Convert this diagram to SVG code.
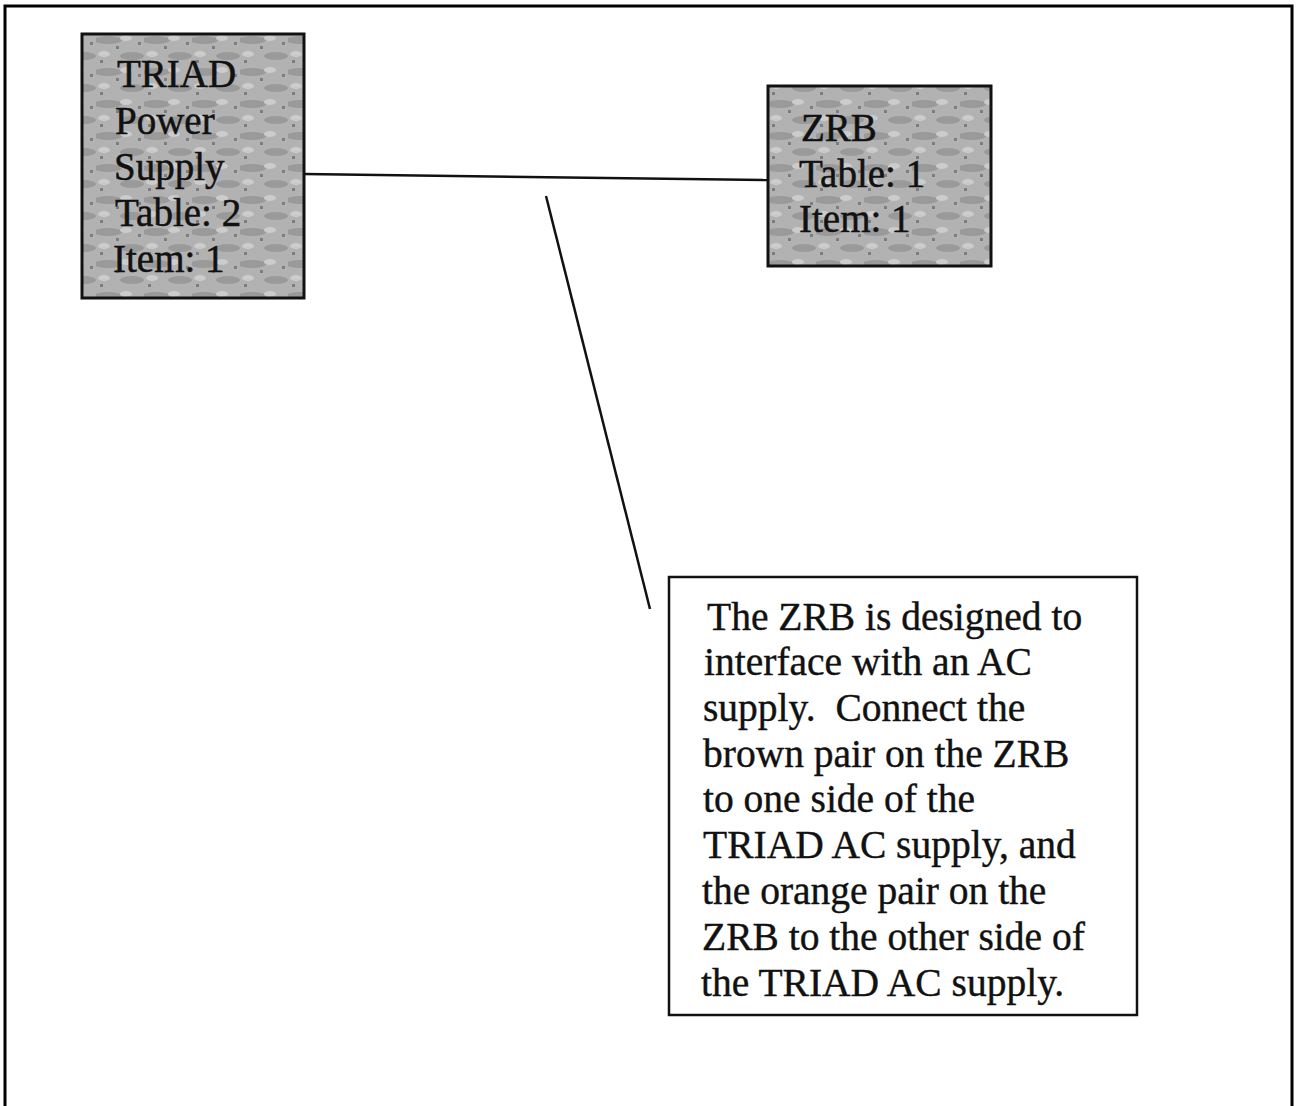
<svg xmlns="http://www.w3.org/2000/svg" width="1297" height="1106" viewBox="0 0 1297 1106">
<defs>
<pattern id="mottle" width="48" height="32" patternUnits="userSpaceOnUse">
<rect width="48" height="32" fill="#b2b2b2"/>
<ellipse cx="12" cy="8" rx="14" ry="4" fill="#9a9a9a"/>
<ellipse cx="36" cy="24" rx="12" ry="4" fill="#9a9a9a"/>
<ellipse cx="30" cy="6" rx="6" ry="3" fill="#cccccc"/>
<ellipse cx="8" cy="22" rx="6" ry="3" fill="#cccccc"/>
<rect x="20" y="14" width="3" height="3" fill="#7e7e7e"/>
<rect x="42" y="10" width="3" height="3" fill="#7e7e7e"/>
<rect x="4" y="28" width="3" height="3" fill="#7e7e7e"/>
</pattern>
<style>
.node{fill:url(#mottle);stroke:#111;stroke-width:3}
.note{fill:#fff;stroke:#111;stroke-width:2.5}
.lbl{font-family:"Liberation Serif","Times New Roman",serif;font-size:39px;fill:#111;stroke:#111;stroke-width:0.5}
.ntx{font-family:"Liberation Serif","Times New Roman",serif;font-size:39.5px;fill:#111;stroke:#111;stroke-width:0.4;white-space:pre}
.wire{stroke:#111;stroke-width:2.5;fill:none}
</style>
</defs>
<rect width="1297" height="1106" fill="#fff"/>
<path d="M5,1106 V6 H1292 V1106" fill="none" stroke="#000" stroke-width="3"/>
<g id="connectors">
<line class="wire" x1="304" y1="174" x2="768" y2="180"/>
<line class="wire" x1="546" y1="196" x2="650" y2="609"/>
</g>
<g id="triad">
<rect class="node" x="82" y="34" width="222" height="264"/>
<text class="lbl" x="117" y="87">TRIAD</text>
<text class="lbl" x="115" y="134">Power</text>
<text class="lbl" x="114" y="180">Supply</text>
<text class="lbl" x="115" y="226">Table: 2</text>
<text class="lbl" x="113" y="272">Item: 1</text>
</g>
<g id="zrb">
<rect class="node" x="768" y="86" width="223" height="180"/>
<text class="lbl" x="801" y="141">ZRB</text>
<text class="lbl" x="799" y="187">Table: 1</text>
<text class="lbl" x="799" y="232">Item: 1</text>
</g>
<g id="note">
<rect class="note" x="669" y="577" width="468" height="438"/>
<text class="ntx" x="707" y="630">The ZRB is designed to</text>
<text class="ntx" x="704" y="675">interface with an AC</text>
<text class="ntx" x="703" y="721">supply.  Connect the</text>
<text class="ntx" x="703" y="767">brown pair on the ZRB</text>
<text class="ntx" x="703" y="812">to one side of the</text>
<text class="ntx" x="703" y="858">TRIAD AC supply, and</text>
<text class="ntx" x="702" y="904">the orange pair on the</text>
<text class="ntx" x="702" y="950">ZRB to the other side of</text>
<text class="ntx" x="701" y="996">the TRIAD AC supply.</text>
</g>
</svg>
